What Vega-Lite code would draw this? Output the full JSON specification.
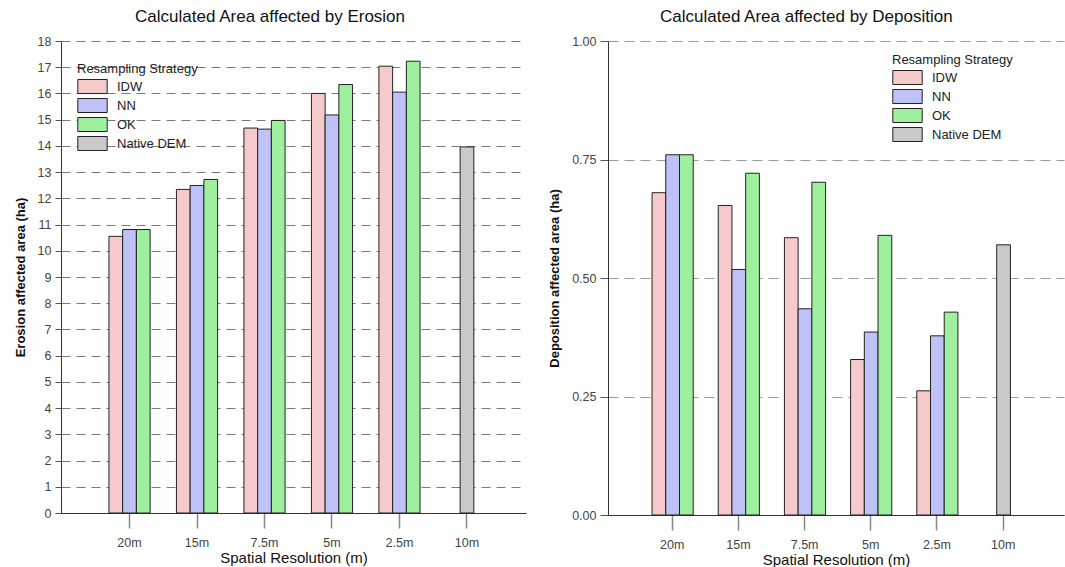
{
  "$schema": "https://vega.github.io/schema/vega-lite/v6.json",
  "background": "white",
  "padding": {"left": 14, "top": 8, "right": 2, "bottom": 0},
  "spacing": 22,
  "config": {
    "font": "Liberation Sans",
    "view": {"stroke": null},
    "title": {"font": "Liberation Sans", "fontSize": 17, "fontWeight": "normal", "color": "#111", "frame": "bounds", "anchor": "middle", "offset": 9},
    "axis": {
      "labelFont": "Liberation Sans", "titleFont": "Liberation Sans",
      "labelColor": "#444", "titleColor": "#111",
      "domainColor": "#333", "domainWidth": 1
    },
    "legend": {"labelFont": "Liberation Sans", "titleFont": "Liberation Sans"}
  },
  "datasets": {
    "erosion": [
      {"res": "20m", "strategy": "IDW", "area": 10.55},
      {"res": "20m", "strategy": "NN", "area": 10.81},
      {"res": "20m", "strategy": "OK", "area": 10.81},
      {"res": "15m", "strategy": "IDW", "area": 12.34},
      {"res": "15m", "strategy": "NN", "area": 12.49},
      {"res": "15m", "strategy": "OK", "area": 12.72},
      {"res": "7.5m", "strategy": "IDW", "area": 14.68},
      {"res": "7.5m", "strategy": "NN", "area": 14.64},
      {"res": "7.5m", "strategy": "OK", "area": 14.97},
      {"res": "5m", "strategy": "IDW", "area": 16.0},
      {"res": "5m", "strategy": "NN", "area": 15.18},
      {"res": "5m", "strategy": "OK", "area": 16.34},
      {"res": "2.5m", "strategy": "IDW", "area": 17.04},
      {"res": "2.5m", "strategy": "NN", "area": 16.05},
      {"res": "2.5m", "strategy": "OK", "area": 17.23},
      {"res": "10m", "strategy": "Native DEM", "area": 13.96}
    ],
    "deposition": [
      {"res": "20m", "strategy": "IDW", "area": 0.680},
      {"res": "20m", "strategy": "NN", "area": 0.760},
      {"res": "20m", "strategy": "OK", "area": 0.760},
      {"res": "15m", "strategy": "IDW", "area": 0.653},
      {"res": "15m", "strategy": "NN", "area": 0.518},
      {"res": "15m", "strategy": "OK", "area": 0.721},
      {"res": "7.5m", "strategy": "IDW", "area": 0.585},
      {"res": "7.5m", "strategy": "NN", "area": 0.435},
      {"res": "7.5m", "strategy": "OK", "area": 0.702},
      {"res": "5m", "strategy": "IDW", "area": 0.328},
      {"res": "5m", "strategy": "NN", "area": 0.386},
      {"res": "5m", "strategy": "OK", "area": 0.590},
      {"res": "2.5m", "strategy": "IDW", "area": 0.262},
      {"res": "2.5m", "strategy": "NN", "area": 0.378},
      {"res": "2.5m", "strategy": "OK", "area": 0.428},
      {"res": "10m", "strategy": "Native DEM", "area": 0.570}
    ]
  },
  "resolve": {"scale": {"color": "independent", "x": "independent", "y": "independent"}, "legend": {"color": "independent"}},
  "hconcat": [
    {
      "width": 465,
      "height": 472,
      "title": "Calculated Area affected by Erosion",
      "data": {"name": "erosion"},
      "transform": [
        {"calculate": "datum.strategy === 'Native DEM' ? 'NN' : datum.strategy", "as": "slot"}
      ],
      "mark": {"type": "bar", "stroke": "#222", "strokeWidth": 1},
      "encoding": {
        "x": {
          "field": "res", "type": "nominal",
          "sort": ["20m", "15m", "7.5m", "5m", "2.5m", "10m"],
          "scale": {"paddingInner": 0.39, "paddingOuter": 0.64, "align": 0.555},
          "axis": {
            "title": "Spatial Resolution (m)", "titleFontSize": 15, "titleFontWeight": "normal", "titlePadding": 2,
            "labelAngle": 0, "labelFontSize": 12.5, "labelPadding": 8,
            "tickSize": 15, "tickColor": "#888", "tickWidth": 1.5
          }
        },
        "xOffset": {"field": "slot", "type": "nominal", "sort": ["IDW", "NN", "OK"]},
        "y": {
          "field": "area", "type": "quantitative",
          "scale": {"domain": [0, 18], "nice": false},
          "axis": {
            "title": "Erosion affected area (ha)", "titleFontSize": 13, "titleFontWeight": "bold", "titlePadding": 10,
            "values": [0, 0.5, 1, 1.5, 2, 2.5, 3, 3.5, 4, 4.5, 5, 5.5, 6, 6.5, 7, 7.5, 8, 8.5, 9, 9.5, 10, 10.5, 11, 11.5, 12, 12.5, 13, 13.5, 14, 14.5, 15, 15.5, 16, 16.5, 17, 17.5, 18],
            "format": "d",
            "labelExpr": "datum.value % 1 === 0 ? format(datum.value, 'd') : ''",
            "labelFontSize": 12.5, "labelPadding": 4,
            "tickColor": "#555",
            "tickSize": {"condition": {"test": "datum.value % 1 !== 0", "value": 4}, "value": 6},
            "grid": true, "gridColor": "#7a7a7a", "gridDash": [9, 6],
            "gridOpacity": {"condition": {"test": "datum.value % 1 !== 0", "value": 0}, "value": 1}
          }
        },
        "color": {
          "field": "strategy", "type": "nominal",
          "scale": {"domain": ["IDW", "NN", "OK", "Native DEM"], "range": ["#f6caca", "#bfc2f6", "#9ef09e", "#c9c9c9"]},
          "legend": {
            "title": "Resampling Strategy", "orient": "none", "legendX": 16, "legendY": 22,
            "symbolType": "M-2.1,-1H2.1V1H-2.1Z", "symbolSize": 196,
            "symbolStrokeColor": "#222", "symbolStrokeWidth": 1, "symbolOpacity": 1,
            "symbolOffset": 8, "labelOffset": 17, "rowPadding": 0,
            "labelFontSize": 13, "labelColor": "#222",
            "titleFontSize": 13, "titleFontWeight": "normal", "titleColor": "#222", "titlePadding": 3
          }
        }
      }
    },
    {
      "width": 456,
      "height": 474,
      "title": "Calculated Area affected by Deposition",
      "data": {"name": "deposition"},
      "transform": [
        {"calculate": "datum.strategy === 'Native DEM' ? 'NN' : datum.strategy", "as": "slot"}
      ],
      "mark": {"type": "bar", "stroke": "#222", "strokeWidth": 1},
      "encoding": {
        "x": {
          "field": "res", "type": "nominal",
          "sort": ["20m", "15m", "7.5m", "5m", "2.5m", "10m"],
          "scale": {"paddingInner": 0.39, "paddingOuter": 0.64, "align": 0.52},
          "axis": {
            "title": "Spatial Resolution (m)", "titleFontSize": 15, "titleFontWeight": "normal", "titlePadding": 2,
            "labelAngle": 0, "labelFontSize": 12.5, "labelPadding": 8,
            "tickSize": 15, "tickColor": "#888", "tickWidth": 1.5
          }
        },
        "xOffset": {"field": "slot", "type": "nominal", "sort": ["IDW", "NN", "OK"]},
        "y": {
          "field": "area", "type": "quantitative",
          "scale": {"domain": [0, 1], "nice": false},
          "axis": {
            "title": "Deposition affected area (ha)", "titleFontSize": 13, "titleFontWeight": "bold", "titlePadding": 10,
            "values": [0, 0.25, 0.5, 0.75, 1], "format": ".2f",
            "labelFontSize": 12.5, "labelPadding": 4,
            "tickColor": "#555", "tickSize": 8,
            "grid": true, "gridColor": "#9a9a9a", "gridDash": [10, 6]
          }
        },
        "color": {
          "field": "strategy", "type": "nominal",
          "scale": {"domain": ["IDW", "NN", "OK", "Native DEM"], "range": ["#f6caca", "#bfc2f6", "#9ef09e", "#c9c9c9"]},
          "legend": {
            "title": "Resampling Strategy", "orient": "none", "legendX": 284, "legendY": 13,
            "symbolType": "M-2.1,-1H2.1V1H-2.1Z", "symbolSize": 196,
            "symbolStrokeColor": "#222", "symbolStrokeWidth": 1, "symbolOpacity": 1,
            "symbolOffset": 8, "labelOffset": 17, "rowPadding": 0,
            "labelFontSize": 13, "labelColor": "#222",
            "titleFontSize": 13, "titleFontWeight": "normal", "titleColor": "#222", "titlePadding": 3
          }
        }
      }
    }
  ]
}
